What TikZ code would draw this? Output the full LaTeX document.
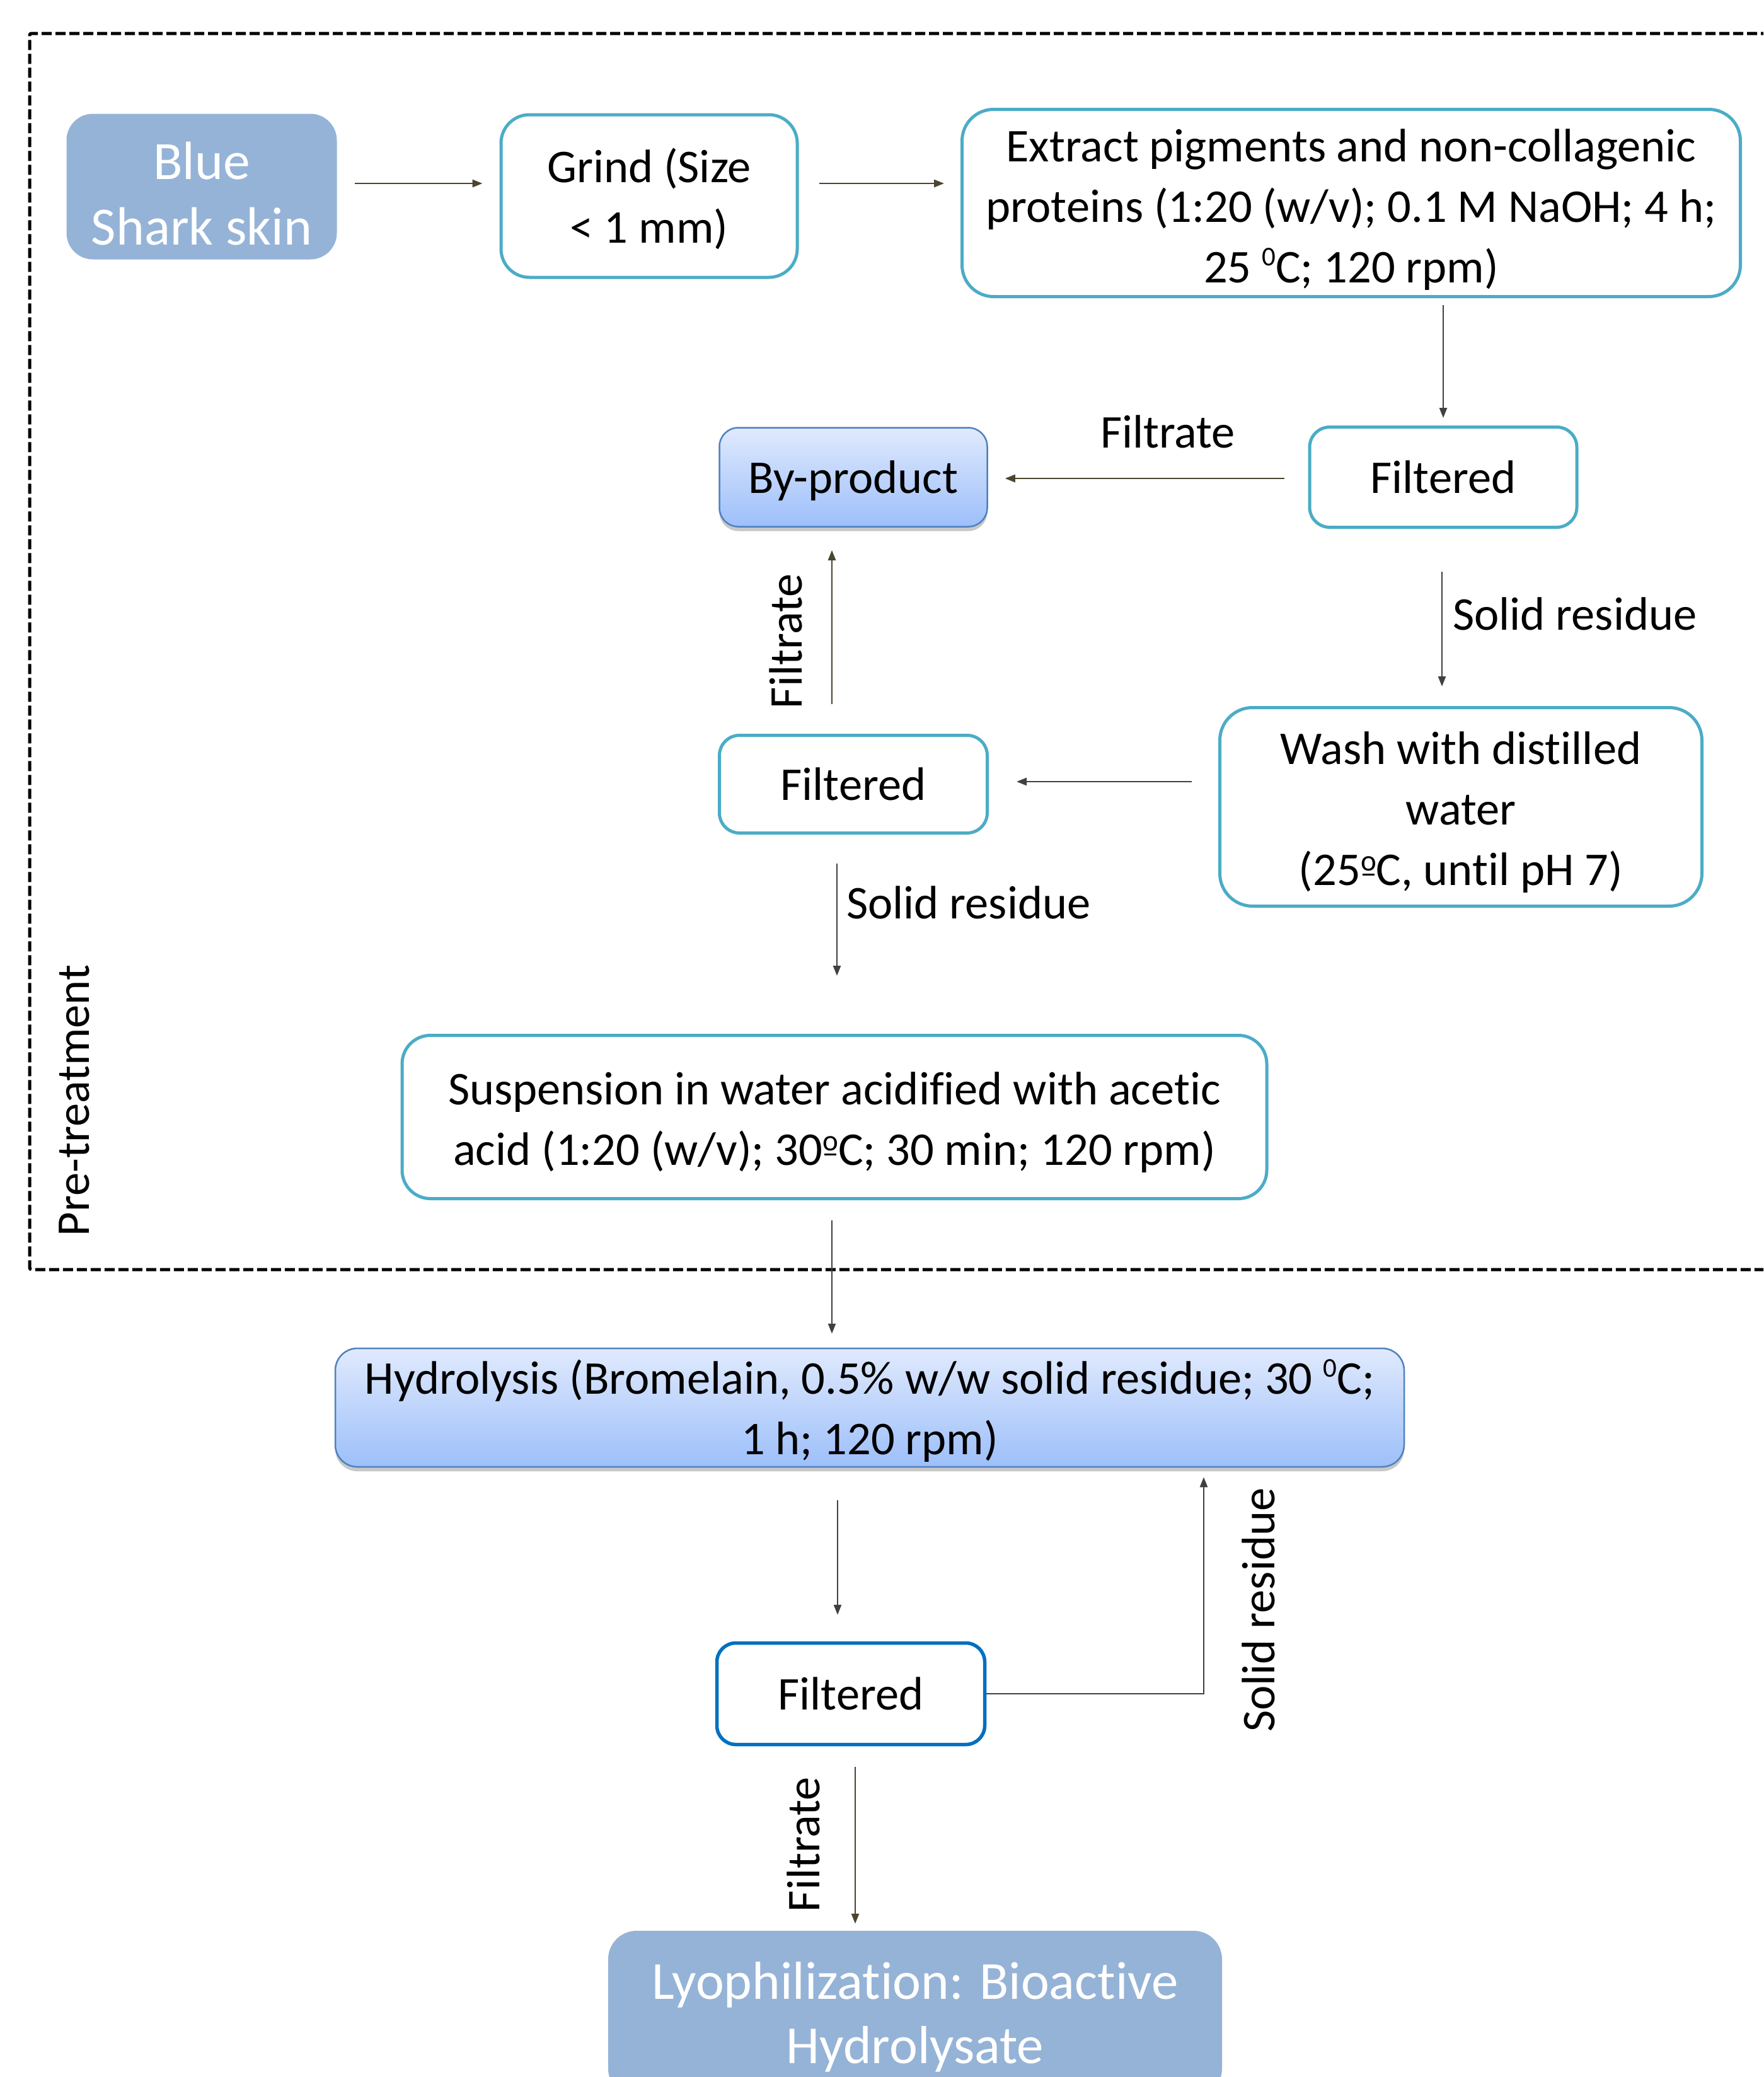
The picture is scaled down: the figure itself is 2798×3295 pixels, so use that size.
\documentclass[tikz,border=0pt]{standalone}
\usepackage{fontspec}
\setmainfont{Carlito}[Ligatures={NoCommon}]
\usetikzlibrary{arrows.meta,shadows}
\definecolor{tealc}{RGB}{75,172,198}
\definecolor{skinc}{RGB}{149,179,215}
\definecolor{gradtop}{RGB}{224,234,253}
\definecolor{gradbot}{RGB}{157,191,250}
\definecolor{gborder}{RGB}{79,129,189}
\definecolor{blued}{RGB}{0,112,192}
\definecolor{arrowh}{RGB}{74,69,46}
\definecolor{arrowv}{RGB}{64,64,64}
\newcommand\fsN{\fontsize{74.5}{96}\selectfont}
\newcommand\fsB{\fontsize{85.5}{104}\selectfont}
\newcommand\fsL{\fontsize{85}{102}\selectfont}
\newcommand\up[1]{\rule{0pt}{#1pt}}
\newcommand\supz{\raisebox{27pt}{\fontsize{43}{43}\selectfont 0}}
\newcommand\ordo{\begingroup\fontsize{47}{47}\selectfont\raisebox{23pt}{o}\llap{\rule[15pt]{0.4em}{3.5pt}\hspace{0.06em}}\endgroup}
\begin{document}
\begin{tikzpicture}[x=1pt,y=-1pt,
  tbox/.style={draw=tealc, line width=5pt, rounded corners=#1, align=center, inner sep=0pt, font=\fsN, fill=white},
  dbox/.style={draw=blued, line width=5.5pt, rounded corners=#1, align=center, inner sep=0pt, font=\fsN, fill=white},
  gbox/.style={draw=gborder, line width=2.5pt, rounded corners=#1, align=center, inner sep=0pt, font=\fsN,
    top color=gradtop, bottom color=gradbot,
    drop shadow={shadow xshift=0pt, shadow yshift=-7pt, opacity=0.3, fill=black!70}},
  sbox/.style={fill=skinc, draw=none, rounded corners=#1, align=center, inner sep=0pt, font=\fsB, text=white},
  lbl/.style={font=\fsN, inner sep=0pt},
  arrH/.style={draw=arrowh, line width=2.5pt, -{Triangle[length=16pt,width=12pt]}},
  arrV/.style={draw=arrowv, line width=2.5pt, -{Triangle[length=16pt,width=12pt]}}
]
\useasboundingbox (0,0) rectangle (2798,3295);
\clip (0,0) rectangle (2798,3295);
\fill[white] (0,0) rectangle (2798,3295);

% dashed pre-treatment frame
\draw[line width=5pt, dash pattern=on 16pt off 6pt, rounded corners=3pt] (2810,53) -- (47,53) -- (47,2014) -- (2810,2014);
\node[lbl, rotate=90, anchor=base] (pre) at (141,1746) {Pre-treatment};

% nodes
\node[sbox=42pt, minimum width=429pt, minimum height=231pt] (skin) at (320,296) {\up{82}Blue\\Shark skin};
\node[tbox=45pt, minimum width=470pt, minimum height=258pt] (grind) at (1030,311) {\up{64}Grind (Size\\< 1 mm)};
\node[tbox=50pt, minimum width=1235pt, minimum height=297pt] (extract) at (2144,322) {\up{72}Extract pigments and non-collagenic\\proteins (1:20 (w/v); 0.1 M NaOH; 4 h;\\25 \supz C; 120 rpm)};
\node[tbox=32pt, minimum width=424pt, minimum height=159pt] (filt1) at (2290,757) {Filtered};
\node[gbox=30pt, minimum width=425pt, minimum height=157pt] (byprod) at (1354,757) {\up{62}By-product};
\node[tbox=52pt, minimum width=765pt, minimum height=315pt] (wash) at (2318,1280) {\up{68}Wash with distilled\\water\\(25\ordo C, until pH 7)};
\node[tbox=32pt, minimum width=425pt, minimum height=155pt] (filt2) at (1354,1244) {Filtered};
\node[tbox=45pt, minimum width=1372pt, minimum height=259pt] (susp) at (1324,1772) {\up{68}Suspension in water acidified with acetic\\acid (1:20 (w/v); 30\ordo C; 30 min; 120 rpm)};
\node[gbox=35pt, minimum width=1696pt, minimum height=188pt] (hydro) at (1380,2233) {\up{64}Hydrolysis (Bromelain, 0.5\% w/w solid residue; 30 \supz C;\\1 h; 120 rpm)};
\node[dbox=30pt, minimum width=425pt, minimum height=161pt] (filt3) at (1350,2687) {Filtered};
\node[sbox=45pt, minimum width=974pt, minimum height=264pt, font=\fsL] (lyo) at (1452,3195) {\up{68}Lyophilization: Bioactive\\Hydrolysate};

% connectors
\draw[arrH, shorten <=28pt, shorten >=27pt] (skin.east |- 0,291) -- (grind.west |- 0,291);
\draw[arrH, shorten <=32pt, shorten >=26pt] (grind.east |- 0,291) -- (extract.west |- 0,291);
\draw[arrV, shorten <=11pt, shorten >=12pt] (filt1.north |- extract.south) -- (filt1.north);
\draw[arrH, shorten <=38pt, shorten >=27pt] (filt1.west |- 0,759) -- (byprod.east |- 0,759);
\node[lbl, anchor=base] (lf1) at (1853,710) {Filtrate};
\draw[arrV, shorten <=68pt, shorten >=31pt] (filt1.south -| 2288,0) -- (wash.north -| 2288,0);
\node[lbl, anchor=base west] (ls1) at (2305,999) {Solid residue};
\draw[arrV, shorten <=42pt, shorten >=44pt] (wash.west |- 0,1240) -- (filt2.east |- 0,1240);
\draw[arrH, shorten <=47pt, shorten >=36pt] (filt2.north -| 1320,0) -- (byprod.south -| 1320,0);
\node[lbl, rotate=90, anchor=base] (lf2) at (1272,1017) {Filtrate};
\draw[arrV, shorten <=46pt, shorten >=92pt] (filt2.south -| 1328,0) -- (susp.north -| 1328,0);
\node[lbl, anchor=base west] (ls2) at (1343,1457) {Solid residue};
\draw[arrV, shorten <=32pt, shorten >=22pt] (susp.south -| 1320,0) -- (hydro.north -| 1320,0);
\draw[arrV, shorten <=52pt, shorten >=42pt] (hydro.south -| 1329,0) -- (filt3.north -| 1329,0);
\draw[arrV, shorten >=15pt] (filt3.east) -| (hydro.south -| 1910,0);
\node[lbl, rotate=90, anchor=base] (ls3) at (2022,2554) {Solid residue};
\draw[arrH, shorten <=33pt, shorten >=11pt] (filt3.south -| 1357,0) -- (lyo.north -| 1357,0);
\node[lbl, rotate=90, anchor=base] (lf3) at (1300,2926) {Filtrate};
\end{tikzpicture}
\end{document}
